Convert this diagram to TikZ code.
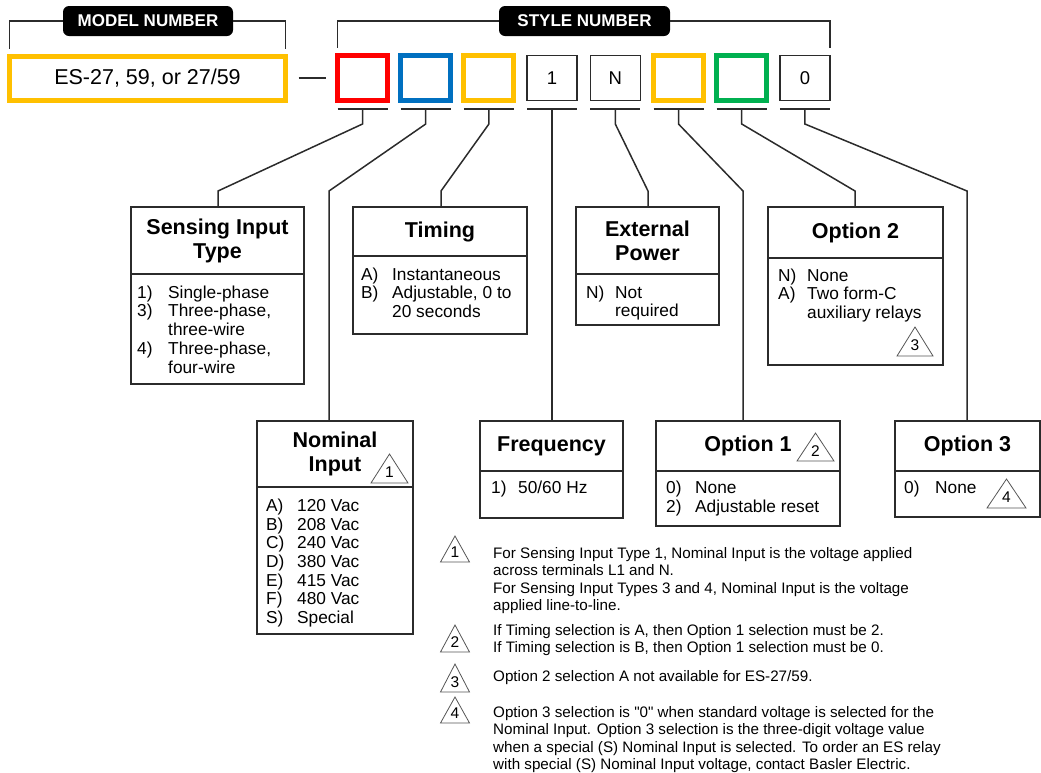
\documentclass[tikz,border=0pt]{standalone}
\usepackage{fontspec}
\setmainfont{Liberation Sans}[Ligatures=TeXOff]
\usetikzlibrary{calc,positioning}

\definecolor{ink}{HTML}{2B2B2B}
\definecolor{selred}{HTML}{FF0000}
\definecolor{selblue}{HTML}{0070C0}
\definecolor{selyellow}{HTML}{FFC000}
\definecolor{selgreen}{HTML}{00B050}

% note flag: name, base centre, digit, half width, height
\newcommand{\flag}[5]{%
  \coordinate (#1) at (#2);
  \draw[flagline] ($(#1)+(-#4,0)$) -- ($(#1)+(0,-#5)$) -- ($(#1)+(#4,0)$) -- cycle;
  \node[flagnum] (#1d) at ($(#1)+(0,-0.36*#5)$) {#3};}

\begin{document}
\begin{tikzpicture}[x=1pt,y=-1pt]

  \tikzstyle{hdr} = [draw=ink, line width=1.3pt, anchor=north west, inner sep=0, outer sep=0, align=center, font=\fontsize{21.5}{24}\selectfont\bfseries]
  \tikzstyle{bodybox} = [draw=ink, line width=1.3pt, anchor=north west, inner sep=0, outer sep=0]
  \tikzstyle{items} = [anchor=north west, inner sep=0, font=\fontsize{17.3}{18.7}\selectfont]
  \tikzstyle{wire} = [draw=ink, line width=1.5pt]
  \tikzstyle{uline} = [draw=ink, line width=2.6pt]
  \tikzstyle{bracket} = [draw=ink, line width=1.3pt]
  \tikzstyle{digitbox} = [minimum width=50, minimum height=45, inner sep=0, outer sep=0, fill=white, font=\fontsize{18.5}{20}\selectfont]
  \tikzstyle{tagbox} = [fill=black, rounded corners=6pt, minimum width=170, minimum height=30, text=white, font=\fontsize{17}{20}\selectfont\bfseries]
  \tikzstyle{note} = [anchor=north west, inner sep=0, align=left, font=\fontsize{15.2}{17.5}\selectfont]
  \tikzstyle{flagline} = [draw=ink!80, line width=0.8pt]
  \tikzstyle{flagnum} = [inner sep=0, font=\fontsize{15.5}{16}\selectfont]

  \useasboundingbox (0,0) rectangle (1041,772);

  % model number
  \node[tagbox] (mlab) at (148,21) {MODEL NUMBER};
  \node[draw=selyellow, line width=5pt, minimum width=276, minimum height=44, inner sep=0, outer sep=0, font=\fontsize{21.5}{24}\selectfont] (model) at (147.5,78) {ES-27, 59, or 27/59};
  \draw[bracket] (mlab.west) -| ([yshift=7]model.north west);
  \draw[bracket] (mlab.east) -| ([yshift=7]model.north east);

  % style number
  \foreach \i/\col/\lw/\txt in {1/selred/5pt/{},2/selblue/5pt/{},3/selyellow/5pt/{},4/ink/1.3pt/1,5/ink/1.3pt/N,6/selyellow/5pt/{},7/selgreen/5pt/{},8/ink/1.3pt/0} {
    \node[digitbox, draw=\col, line width=\lw] (s\i) at ({362.5+63.2*(\i-1)},78) {\txt};
    \coordinate (u\i) at ({362.5+63.2*(\i-1)},109);
    \draw[uline] ([xshift=-25]u\i) -- ([xshift=25]u\i);
  }
  \node[tagbox, minimum width=171] (slab) at (584.5,21) {STYLE NUMBER};
  \draw[bracket] (slab.west) -| ([yshift=8]s1.north west);
  \draw[bracket] (slab.east) -| ([yshift=8]s8.north east);
  \draw[wire] ([xshift=13]model.east) -- ([xshift=-12]s1.west);

  % upper row
  \node[hdr, minimum width=173, minimum height=67] (sensH) at (131,207) {Sensing Input\\Type};
  \node[bodybox, minimum width=173, minimum height=110] (sensB) at (sensH.south west) {};
  \node[items] (sensL) at ([xshift=6,yshift=-11]sensB.north west) {\begin{tabular}{@{}p{31pt}@{}l@{}}1) & Single-phase\\ 3) & Three-phase,\\ & three-wire\\ 4) & Three-phase,\\ & four-wire\end{tabular}};

  \node[hdr, minimum width=174, minimum height=49] (timH) at (353,207) {Timing};
  \node[bodybox, minimum width=174, minimum height=78] (timB) at (timH.south west) {};
  \node[items] (timL) at ([xshift=8,yshift=-11]timB.north west) {\begin{tabular}{@{}p{31pt}@{}l@{}}A) & Instantaneous\\ B) & Adjustable, 0 to\\ & 20 seconds\end{tabular}};

  \node[hdr, minimum width=143, minimum height=67] (extH) at (576,207) {External\\Power};
  \node[bodybox, minimum width=143, minimum height=51] (extB) at (extH.south west) {};
  \node[items] (extL) at ([xshift=10,yshift=-11]extB.north west) {\begin{tabular}{@{}p{29pt}@{}l@{}}N) & Not\\ & required\end{tabular}};

  \node[hdr, minimum width=175, minimum height=51] (opt2H) at (768,207) {Option 2};
  \node[bodybox, minimum width=175, minimum height=107] (opt2B) at (opt2H.south west) {};
  \node[items] (opt2L) at ([xshift=10,yshift=-10]opt2B.north west) {\begin{tabular}{@{}p{29pt}@{}l@{}}N) & None\\ A) & Two form-C\\ & auxiliary relays\end{tabular}};

  % lower row
  \node[hdr, minimum width=156, minimum height=66] (nomH) at (257,421) {Nominal\\Input};
  \node[bodybox, minimum width=156, minimum height=147] (nomB) at (nomH.south west) {};
  \node[items] (nomL) at ([xshift=9,yshift=-11]nomB.north west) {\begin{tabular}{@{}p{31pt}@{}l@{}}A) & 120 Vac\\ B) & 208 Vac\\ C) & 240 Vac\\ D) & 380 Vac\\ E) & 415 Vac\\ F) & 480 Vac\\ S) & Special\end{tabular}};

  \node[hdr, minimum width=143, minimum height=50] (freqH) at (480,421) {Frequency};
  \node[bodybox, minimum width=143, minimum height=47] (freqB) at (freqH.south west) {};
  \node[items] (freqL) at ([xshift=11,yshift=-9]freqB.north west) {\begin{tabular}{@{}p{27pt}@{}l@{}}1) & 50/60 Hz\end{tabular}};

  \node[hdr, minimum width=184, minimum height=50] (opt1H) at (656,421) {Option 1};
  \node[bodybox, minimum width=184, minimum height=55] (opt1B) at (opt1H.south west) {};
  \node[items] (opt1L) at ([xshift=10,yshift=-9]opt1B.north west) {\begin{tabular}{@{}p{29pt}@{}l@{}}0) & None\\ 2) & Adjustable reset\end{tabular}};

  \node[hdr, minimum width=145, minimum height=50] (opt3H) at (895,421) {Option 3};
  \node[bodybox, minimum width=145, minimum height=46] (opt3B) at (opt3H.south west) {};
  \node[items] (opt3L) at ([xshift=9,yshift=-9]opt3B.north west) {\begin{tabular}{@{}p{31pt}@{}l@{}}0) & None\end{tabular}};

  % connectors
  \coordinate (k1) at (218,191);
  \coordinate (k2) at (329,191);
  \coordinate (k3) at (441,191);
  \coordinate (k5) at (648,191);
  \coordinate (k6) at (743,191);
  \coordinate (k7) at (855,191);
  \coordinate (k8) at (967,191);
  \draw[wire] (u1) -- ++(0,15) -- (k1) -- (k1 |- sensH.north);
  \draw[wire] (u2) -- ++(0,15) -- (k2) -- (k2 |- nomH.north);
  \draw[wire] (u3) -- ++(0,15) -- (k3) -- (k3 |- timH.north);
  \draw[wire] (u4) -- (u4 |- freqH.north);
  \draw[wire] (u5) -- ++(0,15) -- (k5) -- (k5 |- extH.north);
  \draw[wire] (u6) -- ++(0,15) -- (k6) -- (k6 |- opt1H.north);
  \draw[wire] (u7) -- ++(0,15) -- (k7) -- (k7 |- opt2H.north);
  \draw[wire] (u8) -- ++(0,15) -- (k8) -- (k8 |- opt3H.north);

  % flags in the boxes
  \flag{f1}{389.5,483}{1}{18.5}{29}
  \flag{f2}{815.5,461}{2}{18.5}{28}
  \flag{f3}{915,356}{3}{18}{29}
  \flag{f4}{1006.5,508}{4}{19.5}{29}

  % notes
  \flag{t1}{455,562}{1}{14.5}{26}
  \flag{t2}{455,652}{2}{14.5}{27}
  \flag{t3}{455,692}{3}{14.5}{28}
  \flag{t4}{455,723}{4}{14.5}{26}
  \node[note] (note1) at (493,547) {For Sensing Input Type 1, Nominal Input is the voltage applied\\across terminals L1 and N.\\For Sensing Input Types 3 and 4, Nominal Input is the voltage\\applied line-to-line.};
  \node[note] (note2) at (493,624) {If Timing selection is A, then Option 1 selection must be 2.\\If Timing selection is B, then Option 1 selection must be 0.};
  \node[note] (note3) at (493,670) {Option 2 selection A not available for ES-27/59.};
  \node[note] (note4) at (493,706) {Option 3 selection is "0" when standard voltage is selected for the\\Nominal Input. Option 3 selection is the three-digit voltage value\\when a special (S) Nominal Input is selected. To order an ES relay\\with special (S) Nominal Input voltage, contact Basler Electric.};

\end{tikzpicture}
\end{document}
